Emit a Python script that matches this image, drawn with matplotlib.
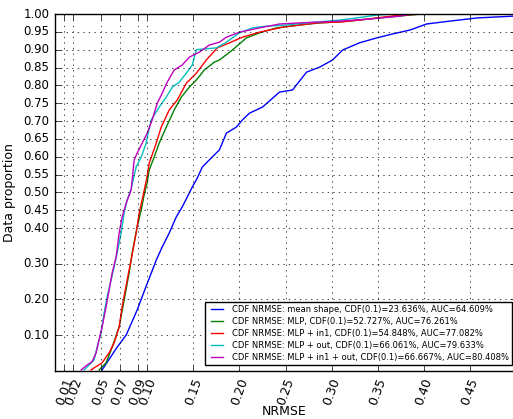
import matplotlib
matplotlib.use("Agg")
import matplotlib.pyplot as plt

plt.style.use('classic')

labels = [
    "CDF NRMSE: mean shape, CDF(0.1)=23.636%, AUC=64.609%",
    "CDF NRMSE: MLP, CDF(0.1)=52.727%, AUC=76.261%",
    "CDF NRMSE: MLP + in1, CDF(0.1)=54.848%, AUC=77.082%",
    "CDF NRMSE: MLP + out, CDF(0.1)=66.061%, AUC=79.633%",
    "CDF NRMSE: MLP + in1 + out, CDF(0.1)=66.667%, AUC=80.408%",
]
colors = ['b', 'g', 'r', 'c', 'm']

blue_x = [0.051, 0.0674, 0.0772, 0.0891, 0.0989, 0.1098, 0.1163, 0.1239, 0.1315, 0.1380,
          0.1489, 0.1543, 0.1598, 0.1674, 0.1783, 0.1859, 0.1967, 0.2033, 0.2109, 0.225,
          0.2435, 0.2576, 0.2728, 0.287, 0.301, 0.312, 0.330, 0.349, 0.366, 0.385,
          0.403, 0.428, 0.458, 0.497]
blue_y = [0.002, 0.066, 0.100, 0.170, 0.237, 0.310, 0.347, 0.386, 0.431, 0.459,
          0.515, 0.540, 0.571, 0.591, 0.619, 0.666, 0.683, 0.703, 0.722, 0.739,
          0.781, 0.787, 0.837, 0.851, 0.871, 0.899, 0.919, 0.933, 0.944, 0.955,
          0.972, 0.980, 0.989, 0.994]

green_x = [0.0478, 0.0554, 0.062, 0.0696, 0.075, 0.0804, 0.0837, 0.0891, 0.0935, 0.0967,
           0.100, 0.1022, 0.1076, 0.113, 0.1207, 0.1293, 0.137, 0.1457, 0.1533, 0.162,
           0.1728, 0.1783, 0.1924, 0.2076, 0.2217, 0.2402, 0.2652, 0.287, 0.3087, 0.330,
           0.352, 0.385, 0.396]
green_y = [0.002, 0.022, 0.066, 0.123, 0.198, 0.274, 0.330, 0.403, 0.450, 0.493,
           0.527, 0.563, 0.599, 0.638, 0.683, 0.731, 0.767, 0.795, 0.815, 0.843,
           0.865, 0.871, 0.899, 0.933, 0.947, 0.961, 0.969, 0.975, 0.978, 0.983,
           0.989, 0.997, 1.0]

red_x = [0.039, 0.051, 0.0587, 0.0641, 0.0696, 0.0728, 0.0783, 0.0826, 0.088, 0.0913,
         0.0957, 0.100, 0.1022, 0.1098, 0.1152, 0.1239, 0.1326, 0.1424, 0.1533, 0.1641,
         0.176, 0.1891, 0.2033, 0.2217, 0.2467, 0.2652, 0.2837, 0.312, 0.330, 0.3554,
         0.374, 0.403]
red_y = [0.002, 0.022, 0.050, 0.078, 0.123, 0.179, 0.255, 0.311, 0.386, 0.442,
         0.493, 0.546, 0.582, 0.638, 0.683, 0.731, 0.759, 0.806, 0.834, 0.871,
         0.905, 0.919, 0.935, 0.949, 0.963, 0.969, 0.975, 0.978, 0.983, 0.991,
         0.997, 1.0]

cyan_x = [0.0315, 0.0424, 0.0457, 0.050, 0.0533, 0.0565, 0.0609, 0.0641, 0.0674, 0.0717,
          0.075, 0.0783, 0.0826, 0.088, 0.0935, 0.0989, 0.1011, 0.1043, 0.113, 0.1207,
          0.1272, 0.1348, 0.1424, 0.1489, 0.1533, 0.175, 0.1859, 0.20, 0.2141, 0.2293,
          0.2511, 0.2728, 0.287, 0.3087, 0.3272, 0.349, 0.368]
cyan_y = [0.002, 0.030, 0.066, 0.106, 0.162, 0.207, 0.255, 0.291, 0.330, 0.386,
          0.442, 0.479, 0.510, 0.571, 0.599, 0.638, 0.666, 0.703, 0.739, 0.767,
          0.795, 0.809, 0.834, 0.857, 0.900, 0.905, 0.921, 0.947, 0.961, 0.966,
          0.969, 0.975, 0.978, 0.983, 0.989, 0.997, 1.0]

mag_x = [0.0283, 0.0348, 0.0402, 0.0446, 0.0478, 0.0511, 0.0554, 0.0587, 0.062, 0.0663,
         0.0696, 0.0728, 0.0772, 0.0826, 0.0859, 0.0891, 0.0946, 0.100, 0.1054, 0.1109,
         0.1163, 0.1217, 0.1293, 0.138, 0.1457, 0.1565, 0.1674, 0.1783, 0.1859, 0.20,
         0.2217, 0.2435, 0.2652, 0.3087, 0.341, 0.374, 0.387]
mag_y = [0.002, 0.016, 0.025, 0.050, 0.087, 0.123, 0.179, 0.226, 0.274, 0.319,
         0.386, 0.431, 0.470, 0.507, 0.591, 0.610, 0.638, 0.666, 0.703, 0.750,
         0.778, 0.809, 0.843, 0.857, 0.879, 0.893, 0.913, 0.921, 0.935, 0.949,
         0.961, 0.972, 0.975, 0.980, 0.986, 0.994, 1.0]

xticks = [0.01, 0.02, 0.05, 0.07, 0.09, 0.10, 0.15, 0.20, 0.25, 0.30, 0.35, 0.40, 0.45]
yticks = [0.10, 0.20, 0.30, 0.40, 0.45, 0.50, 0.55, 0.60, 0.65, 0.70, 0.75, 0.80,
          0.85, 0.90, 0.95, 1.00]

series = [(blue_x, blue_y), (green_x, green_y), (red_x, red_y), (cyan_x, cyan_y), (mag_x, mag_y)]

fig = plt.figure(figsize=(5.13, 4.19), dpi=100)
fig.patch.set_facecolor('white')
ax = fig.add_axes([55/513, 48.3/419, 461/513, 356.7/419])

for (xs, ys), c, lab in zip(series, colors, labels):
    ax.plot(xs, ys, color=c, lw=1.0, label=lab)

ax.set_xlim(0, 0.5)
ax.set_ylim(0, 1.0)
ax.set_xticks(xticks)
ax.set_xticklabels(["%.2f" % v for v in xticks], rotation=70, fontsize=9)
ax.set_yticks(yticks)
ax.set_yticklabels(["%.2f" % v for v in yticks], fontsize=8.5)
ax.grid(True, linestyle=':', color='k')
ax.set_xlabel("NRMSE", fontsize=9)
ax.xaxis.set_label_coords(0.497, -0.095)
ax.set_ylabel("Data proportion", fontsize=9)

leg = ax.legend(loc='lower right', fontsize=6.0, bbox_to_anchor=(0.992, 0.015),
                borderaxespad=0.0, handlelength=2.0, labelspacing=0.35)
leg.get_frame().set_edgecolor('k')

fig.savefig("out.png", dpi=100, facecolor='white')
